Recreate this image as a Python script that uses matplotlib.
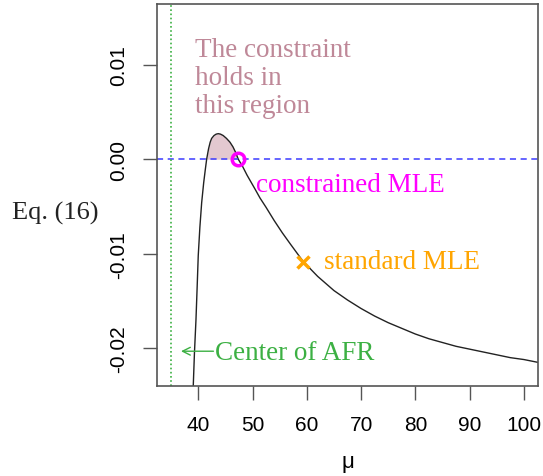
import matplotlib
matplotlib.use("Agg")
import matplotlib.pyplot as plt
import numpy as np

# curve of Eq. (16) against mu
mu = [39.08, 39.3, 39.58, 39.8, 40.0, 40.3, 40.63, 41.0, 41.3, 41.55, 41.9, 42.2, 42.47,
      42.9, 43.3, 43.69, 44.1, 44.6, 45.2, 45.84, 46.4, 46.9, 47.37, 48.2, 49.0, 49.6,
      50.5, 51.37, 52.5, 54.0, 55.5, 57.0, 59.3, 62.0, 65.0, 67.5, 70.0, 72.5, 75.0,
      77.5, 80.0, 82.5, 85.0, 87.5, 90.0, 92.5, 95.0, 97.5, 100.0, 102.6]
eq16 = [-0.0240, -0.0205, -0.0170, -0.0135, -0.0102, -0.0072, -0.0046, -0.0025, -0.0011, 0.0000,
        0.0011, 0.0018, 0.0022, 0.0025, 0.00265, 0.0027, 0.00265, 0.0025, 0.0022, 0.0018,
        0.0013, 0.0007, 0.0000, -0.0008, -0.0017, -0.0023, -0.0032, -0.0041, -0.0051, -0.0065,
        -0.0078, -0.0090, -0.0108, -0.0124, -0.0139, -0.0149, -0.0158, -0.0166, -0.0173,
        -0.0179, -0.0185, -0.0190, -0.0194, -0.0198, -0.0201, -0.0204, -0.0207, -0.0210,
        -0.0212, -0.0215]

afr_center = 35.0
constrained_mle = (47.37, 0.0)
standard_mle = (59.3, -0.0109)

x_ticks = [40, 50, 60, 70, 80, 90, 100]
y_ticks = [-0.02, -0.01, 0.00, 0.01]
y_ticklabels = ["-0.02", "-0.01", "0.00", "0.01"]

serif = ["Liberation Serif", "DejaVu Serif"]
sans = ["Liberation Sans", "DejaVu Sans"]

fig = plt.figure(figsize=(5.43, 4.77), dpi=100)
ax = fig.add_axes([157 / 543, 1 - 387 / 477, (538 - 157) / 543, (387 - 5) / 477])

mu_a = np.array(mu)
eq_a = np.array(eq16)
ax.fill_between(mu_a, eq_a, 0, where=eq_a >= 0, interpolate=True,
                color="#e3c8d0", linewidth=0)
ax.plot(mu, eq16, color="#222222", linewidth=1.0)

ax.axhline(0, color="#3a3aff", linestyle=(0, (4, 3)), linewidth=1.1)
ax.axvline(afr_center, color="#3cb043", linestyle=(0, (1, 1.5)), linewidth=1.2)

ax.plot(*constrained_mle, marker="o", markersize=9, markerfacecolor="none",
        markeredgecolor="#ff00ff", markeredgewidth=2.5)
ax.plot(*standard_mle, marker="x", markersize=9, color="#ffa500", markeredgewidth=2.5)

fs = 19.5
ax.text(39.4, 0.0050, "The constraint\nholds in\nthis region", color="#bf8898",
        fontsize=fs, family=serif, va="baseline", ha="left", linespacing=1.15,
        multialignment="left")
ax.text(50.63, -0.00335, "constrained MLE", color="#ff00ff", fontsize=fs,
        family=serif, va="baseline", ha="left")
ax.text(63.15, -0.01153, "standard MLE", color="#ffa500", fontsize=fs,
        family=serif, va="baseline", ha="left")
ax.text(43.08, -0.02116, "Center of AFR", color="#3cb043", fontsize=fs,
        family=serif, va="baseline", ha="left")
ax.annotate("", xy=(36.82, -0.02032), xytext=(42.8, -0.02032),
            arrowprops=dict(arrowstyle="->", color="#3cb043", linewidth=1.0,
                            shrinkA=0, shrinkB=0, mutation_scale=14))

ax.set_xlim(32.4, 102.6)
ax.set_ylim(-0.0240, 0.01642)
ax.set_xticks(x_ticks)
ax.set_yticks(y_ticks)
ax.set_yticklabels(y_ticklabels, rotation=90, va="center")
ax.tick_params(length=10, width=1.0, color="#555555", labelsize=15, pad=11)
for lab in ax.get_xticklabels() + ax.get_yticklabels():
    lab.set_family(sans)
for s in ax.spines.values():
    s.set_color("#555555")
    s.set_linewidth(1.2)

ax.set_xlabel("μ", fontsize=16, family=sans, labelpad=12)
fig.text(12 / 543, 1 - 220 / 477, "Eq. (16)", fontsize=19, family=serif,
         ha="left", va="baseline", color="#222222")

fig.savefig("out.png", dpi=100)
